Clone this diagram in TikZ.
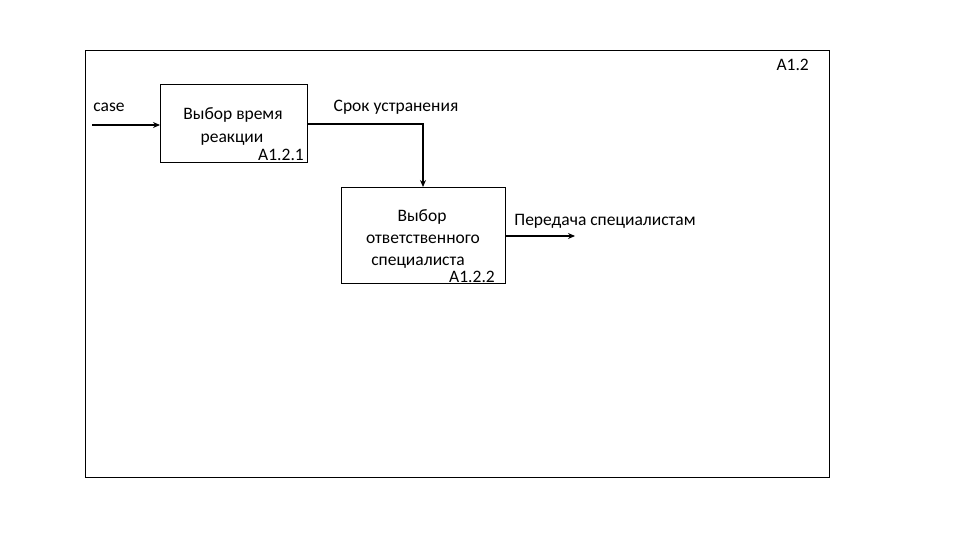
\documentclass[tikz,border=0pt]{standalone}
\usepackage{fontspec}
\setmainfont{Carlito}
\usetikzlibrary{arrows.meta}
\begin{document}
\begin{tikzpicture}[x=1pt,y=-1pt,
  box/.style={draw,line width=0.8pt,inner sep=0pt},
  lbl/.style={font=\fontsize{17.5}{20}\selectfont,inner sep=0pt,anchor=base},
  flow/.style={line width=1.6pt,-{Stealth[length=7pt,width=6pt]}}]
\useasboundingbox (0,0) rectangle (960,540);
\node[box,minimum width=744pt,minimum height=427pt,anchor=north west] (frame) at (85,50) {};
\node[box,minimum width=147pt,minimum height=78pt,anchor=north west] (b1) at (160,84) {};
\node[box,minimum width=164pt,minimum height=96pt,anchor=north west] (b2) at (341,187) {};
\node[lbl,anchor=base east] (fid) at (809,71) {A1.2};
\node[lbl] (t11) at (233,120) {Выбор время};
\node[lbl] (t12) at (232,142.5) {реакции};
\node[lbl,anchor=base east] (id1) at (304,160.5) {A1.2.1};
\node[lbl] (t21) at (422,221) {Выбор};
\node[lbl] (t22) at (423,243) {ответственного};
\node[lbl] (t23) at (418,265) {специалиста};
\node[lbl,anchor=base east] (id2) at (495,282) {A1.2.2};
\node[lbl] (lcase) at (109,111.5) {case};
\node[lbl] (lsrok) at (396,111.5) {Срок устранения};
\node[lbl] (lper) at (605,225) {Передача специалистам};
\coordinate (in0) at (92,125);
\coordinate (c1) at (423,124);
\coordinate (out1) at (575,236);
\draw[flow] (in0) -- (b1.west |- in0);
\draw[flow] (b1.east |- c1) -- (c1) -- (c1 |- b2.north);
\draw[flow] (b2.east |- out1) -- (out1);
\end{tikzpicture}
\end{document}
